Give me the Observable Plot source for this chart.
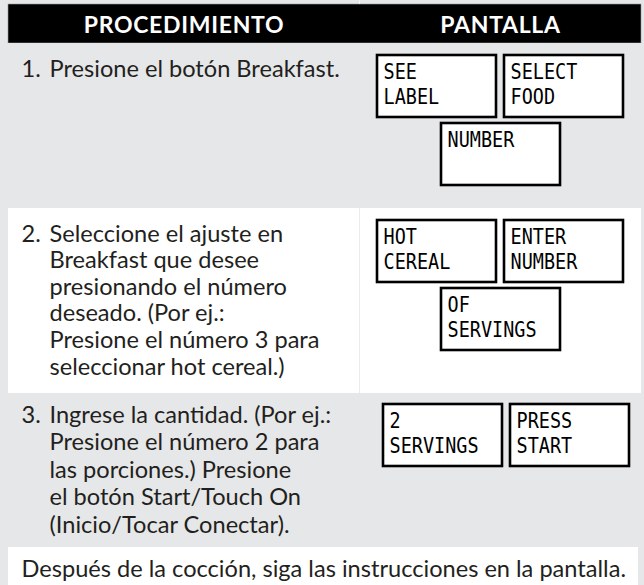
<!DOCTYPE html>
<html>
<head>
<meta charset="utf-8">
<script src="https://cdn.jsdelivr.net/npm/d3@7"></script>
<script src="https://cdn.jsdelivr.net/npm/@observablehq/plot@0.6"></script>
<style>
  html, body { margin: 0; padding: 0; background: #e6e7e8; }
  #chart { width: 644px; height: 585px; overflow: hidden; }
</style>
</head>
<body>
<div id="chart"></div>
<script>
// ---- data ----
const headers = ["PROCEDIMIENTO", "PANTALLA"];
const stepNumbers = ["1.", "2.", "3."];
const stepLines = [
  ["Presione el botón Breakfast."],
  ["Seleccione el ajuste en", "Breakfast que desee", "presionando el número",
   "deseado. (Por ej.:", "Presione el número 3 para", "seleccionar hot cereal.)"],
  ["Ingrese la cantidad. (Por ej.:", "Presione el número 2 para", "las porciones.) Presione",
   "el botón Start/Touch On", "(Inicio/Tocar Conectar)."]
];
const displays = [
  [["SEE", "LABEL"], ["SELECT", "FOOD"], ["NUMBER"]],
  [["HOT", "CEREAL"], ["ENTER", "NUMBER"], ["OF", "SERVINGS"]],
  [["2", "SERVINGS"], ["PRESS", "START"]]
];
const footnote = "Después de la cocción, siga las instrucciones en la pantalla.";

// ---- layout (pixel positions, not data) ----
const W = 644, H = 585;
const left = 8, right = 641, divider = 359;
const headerTop = 4, headerBottom = 43;
const rowTop = [43, 208, 393];
const rowBottom = [208, 393, 547];
const rowFill = ["#e6e7e8", "#ffffff", "#e6e7e8"];
const firstBaseline = [76, 241, 422];
const lineStep = [27, 26.6, 27.5];
const numX = 21, textX = 49;
const boxW = 119, boxH = 62;
const boxSlots = [[377, 12], [504, 12], [441, 80]];
const rowBoxShift = [[0, 0], [0, 0], [6, -1]];
const footTop = 547;

const bgRows = rowTop.map((t, i) => ({x1: left, x2: right, y1: t, y2: rowBottom[i], fill: rowFill[i]}));

const numberItems = stepNumbers.map((n, i) => ({x: numX, y: firstBaseline[i], text: n}));
const lineItems = stepLines.flatMap((lines, i) =>
  lines.map((t, j) => ({x: textX, y: firstBaseline[i] + j * lineStep[i], text: t})));

const boxItems = displays.flatMap((row, i) => row.map((lines, k) => {
  const x = boxSlots[k][0] + rowBoxShift[i][0];
  const y = rowTop[i] + boxSlots[k][1] + rowBoxShift[i][1];
  return {x1: x, x2: x + boxW, y1: y, y2: y + boxH, lines};
}));
const lcdItems = boxItems.flatMap(b => b.lines.map((t, j) => ({x: b.x1 + 6, y: b.y1 + 23 + j * 25, text: t})));

const headerItems = headers.map((h, i) => ({
  x: i === 0 ? (left + divider) / 2 : (divider + right) / 2, y: 32, text: h
}));

const font = "Lato, 'Open Sans', sans-serif";
const lcdFont = "DejaVu Sans Mono";
const ink = "#231f20";
const bodySize = 23.6;
const lcdSqueeze = 0.86;

const chart = Plot.plot({
  width: W, height: H,
  margin: 0,
  x: {type: "identity", axis: null},
  y: {type: "identity", axis: null},
  style: {background: "#e6e7e8", fontFamily: font},
  marks: [
    Plot.rect([{x1: left, x2: right, y1: headerTop, y2: headerBottom}],
      {x1: "x1", x2: "x2", y1: "y1", y2: "y2", fill: "#000000", stroke: "#9a9a9a", strokeWidth: 0.6}),
    Plot.rect(bgRows, {x1: "x1", x2: "x2", y1: "y1", y2: "y2", fill: d => d.fill}),
    Plot.rect([{x1: left, x2: 638, y1: footTop, y2: H}],
      {x1: "x1", x2: "x2", y1: "y1", y2: "y2", fill: "#ffffff"}),
    Plot.ruleX([divider], {y1: rowTop[1], y2: rowBottom[1], stroke: "#ececec", strokeWidth: 1}),
    Plot.ruleX([divider], {y1: 0, y2: headerTop, stroke: "#f4f4f4", strokeWidth: 1}),
    Plot.text(headerItems, {x: "x", y: "y", text: "text", fill: "#ffffff", fontSize: 23,
      fontWeight: "bold", textAnchor: "middle", lineAnchor: "bottom"}),
    Plot.text(numberItems, {x: "x", y: "y", text: "text", fill: ink, fontSize: bodySize,
      textAnchor: "start", lineAnchor: "bottom"}),
    Plot.text(lineItems, {x: "x", y: "y", text: "text", fill: ink, fontSize: bodySize,
      textAnchor: "start", lineAnchor: "bottom"}),
    Plot.rect(boxItems, {x1: "x1", x2: "x2", y1: "y1", y2: "y2", fill: "#ffffff",
      stroke: "#000000", strokeWidth: 2.6}),
    Plot.text(lcdItems, {x: "x", y: "y", text: "text", fill: "#000000", fontSize: 21.5,
      fontFamily: lcdFont, textAnchor: "start", lineAnchor: "bottom"}),
    Plot.text([{x: 21, y: 576, text: footnote}], {x: "x", y: "y", text: "text", fill: ink,
      fontSize: bodySize, textAnchor: "start", lineAnchor: "bottom"})
  ]
});
// narrow the LCD-style glyphs horizontally
d3.select(chart).selectAll("g").filter(function() {
  return (this.getAttribute("font-family") || "").includes("DejaVu");
}).selectAll("text").each(function() {
  const t = this.getAttribute("transform");
  if (t && t.includes("translate")) {
    this.setAttribute("transform", t + ` scale(${lcdSqueeze},1)`);
  } else {
    const x = +this.getAttribute("x") || 0, y = +this.getAttribute("y") || 0;
    this.removeAttribute("x"); this.removeAttribute("y");
    this.setAttribute("transform", `translate(${x},${y}) scale(${lcdSqueeze},1)`);
  }
});
d3.select(chart).selectAll("g").filter(function() {
  return this.getAttribute("font-weight") === "bold";
}).selectAll("text").attr("letter-spacing", "0.7");
document.getElementById("chart").appendChild(chart);
</script>
</body>
</html>
